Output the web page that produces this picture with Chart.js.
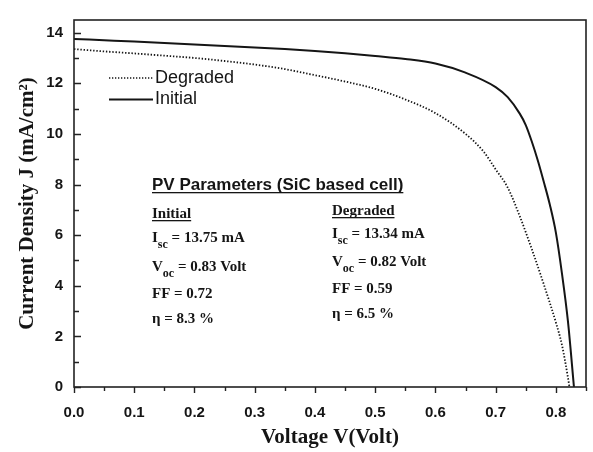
<!DOCTYPE html>
<html>
<head>
<meta charset="utf-8">
<script src="https://cdn.jsdelivr.net/npm/chart.js@4.4.1/dist/chart.umd.min.js"></script>
<style>
  html, body { margin: 0; padding: 0; background: #fff; }
  #wrap { width: 593px; height: 452px; }
</style>
</head>
<body>
<div id="wrap"><canvas id="ivChart" width="593" height="452"></canvas></div>
<script>
// J-V curves (voltage in V, current density in mA/cm2)
const initialV = [0, 0.05, 0.1, 0.15, 0.2, 0.25, 0.3, 0.35, 0.4, 0.45, 0.5, 0.55, 0.6, 0.65, 0.7, 0.72, 0.74, 0.75, 0.76, 0.77, 0.78, 0.79, 0.8, 0.81, 0.82, 0.83];
const initialJ = [13.75, 13.7, 13.65, 13.59, 13.53, 13.47, 13.41, 13.35, 13.28, 13.19, 13.08, 12.96, 12.78, 12.42, 11.85, 11.45, 10.8, 10.35, 9.7, 8.95, 8.1, 7.2, 6.1, 4.5, 2.6, 0];

const degradedV = [0, 0.05, 0.1, 0.15, 0.2, 0.25, 0.3, 0.35, 0.4, 0.45, 0.5, 0.55, 0.6, 0.65, 0.68, 0.7, 0.72, 0.74, 0.76, 0.78, 0.8, 0.81, 0.82, 0.8225];
const degradedJ = [13.35, 13.26, 13.18, 13.09, 13.0, 12.88, 12.74, 12.56, 12.32, 12.07, 11.78, 11.36, 10.82, 10.0, 9.3, 8.6, 7.88, 6.75, 5.45, 4.05, 2.55, 1.67, 0.38, 0];

const xTicks = [0, 0.1, 0.2, 0.3, 0.4, 0.5, 0.6, 0.7, 0.8];
const yTicks = [0, 2, 4, 6, 8, 10, 12, 14];

// parameter table: [label, subscript, rest]
const initialParams = [['I', 'sc', ' = 13.75 mA'], ['V', 'oc', ' = 0.83 Volt'], ['FF', '', ' = 0.72'], ['\u03b7', '', ' = 8.3 %']];
const degradedParams = [['I', 'sc', ' = 13.34 mA'], ['V', 'oc', ' = 0.82 Volt'], ['FF', '', ' = 0.59'], ['\u03b7', '', ' = 6.5 %']];

const toPoints = (xs, ys) => xs.map((x, i) => ({ x: x, y: ys[i] }));

const INK = '#151515';
const SERIF = '"Liberation Serif", "Times New Roman", serif';
const SANS = '"Liberation Sans", Arial, sans-serif';

function underlined(ctx, text, x, y) {
  ctx.fillText(text, x, y);
  const w = ctx.measureText(text).width;
  ctx.fillRect(x, y + 2, w, 1.3);
}

function paramLine(ctx, row, x, y) {
  ctx.font = 'bold 15px ' + SERIF;
  ctx.fillText(row[0], x, y);
  let cx = x + ctx.measureText(row[0]).width;
  if (row[1]) {
    ctx.font = 'bold 12px ' + SERIF;
    ctx.fillText(row[1], cx, y + 6);
    cx += ctx.measureText(row[1]).width;
    ctx.font = 'bold 15px ' + SERIF;
  }
  ctx.fillText(row[2], cx, y);
}

const decor = {
  id: 'decor',
  afterDraw(chart) {
    const { ctx, chartArea: a, scales: { x, y } } = chart;
    ctx.save();
    ctx.strokeStyle = '#222';
    ctx.lineWidth = 1.6;
    ctx.strokeRect(a.left, a.top, a.right - a.left, a.bottom - a.top);

    // y ticks point inward, x ticks point down
    ctx.lineWidth = 1.4;
    ctx.beginPath();
    for (let v = 0; v <= 14; v += 1) {
      const py = Math.round(y.getPixelForValue(v)) + 0.5;
      ctx.moveTo(a.left, py);
      ctx.lineTo(a.left + (v % 2 === 0 ? 7 : 5), py);
    }
    for (let k = 0; k <= 17; k++) {
      const px = Math.round(x.getPixelForValue(k * 0.05)) + 0.5;
      ctx.moveTo(px, a.bottom);
      ctx.lineTo(px, a.bottom + (k % 2 === 0 ? 6 : 4));
    }
    ctx.stroke();

    // legend
    ctx.strokeStyle = INK;
    ctx.lineWidth = 1.6;
    ctx.setLineDash([1.3, 1.7]);
    ctx.beginPath();
    ctx.moveTo(109, 78);
    ctx.lineTo(153, 78);
    ctx.stroke();
    ctx.setLineDash([]);
    ctx.lineWidth = 2;
    ctx.beginPath();
    ctx.moveTo(109, 99.5);
    ctx.lineTo(153, 99.5);
    ctx.stroke();
    ctx.fillStyle = INK;
    ctx.font = '18px ' + SANS;
    ctx.textBaseline = 'middle';
    ctx.fillText('Degraded', 155, 78);
    ctx.fillText('Initial', 155, 99.5);

    // parameter box
    ctx.textBaseline = 'alphabetic';
    ctx.font = 'bold 17px ' + SANS;
    underlined(ctx, 'PV Parameters (SiC based cell)', 152, 190);
    ctx.font = 'bold 15px ' + SERIF;
    underlined(ctx, 'Initial', 152, 218);
    underlined(ctx, 'Degraded', 332, 215);
    const yInit = [242, 271, 298, 323];
    const yDeg = [238, 266, 293, 318];
    initialParams.forEach((r, i) => paramLine(ctx, r, 152, yInit[i]));
    degradedParams.forEach((r, i) => paramLine(ctx, r, 332, yDeg[i]));
    ctx.restore();
  }
};

new Chart(document.getElementById('ivChart'), {
  type: 'line',
  data: {
    datasets: [{
      label: 'Degraded',
      data: toPoints(degradedV, degradedJ),
      borderColor: INK,
      borderWidth: 1.8,
      borderDash: [1.4, 1.8],
      pointRadius: 0,
      cubicInterpolationMode: 'monotone'
    }, {
      label: 'Initial',
      data: toPoints(initialV, initialJ),
      borderColor: INK,
      borderWidth: 2,
      pointRadius: 0,
      cubicInterpolationMode: 'monotone'
    }]
  },
  options: {
    responsive: false,
    animation: false,
    layout: { padding: { top: 8, right: 7, left: 0, bottom: 0 } },
    plugins: { legend: { display: false }, tooltip: { enabled: false } },
    scales: {
      x: {
        type: 'linear',
        min: 0,
        max: 0.85,
        afterFit: s => { s.height = 65; },
        afterBuildTicks: s => { s.ticks = xTicks.map(v => ({ value: v })); },
        grid: { display: false, drawTicks: false },
        border: { display: false },
        ticks: {
          padding: 17,
          color: INK,
          font: { family: SANS, size: 15, weight: 'bold' },
          callback: v => v.toFixed(1)
        },
        title: {
          display: true,
          text: 'Voltage V(Volt)',
          color: INK,
          padding: { top: 0, bottom: 1.5 },
          font: { family: SERIF, size: 21, weight: 'bold' }
        }
      },
      y: {
        min: 0,
        max: 14.5,
        afterFit: s => { s.width = 74; },
        afterBuildTicks: s => { s.ticks = yTicks.map(v => ({ value: v })); },
        grid: { display: false, drawTicks: false },
        border: { display: false },
        ticks: {
          padding: 11,
          color: INK,
          font: { family: SANS, size: 15, weight: 'bold' }
        },
        title: {
          display: true,
          text: 'Current Density J (mA/cm\u00b2)',
          color: INK,
          padding: { top: 15, bottom: 0 },
          font: { family: SERIF, size: 21, weight: 'bold' }
        }
      }
    }
  },
  plugins: [decor]
});
</script>
</body>
</html>
